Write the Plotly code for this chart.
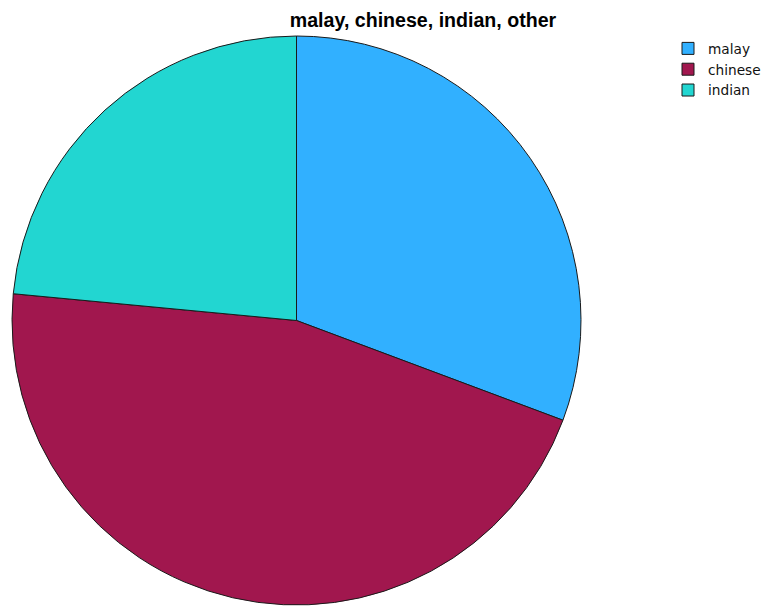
import plotly.graph_objects as go

# Share of each group (percent)
labels = ["malay", "chinese", "indian"]
values = [30.7, 45.8, 23.5]
colors = ["#31b0ff", "#a1174e", "#22d6d1"]

W, H = 766, 606

fig = go.Figure(
    go.Pie(
        labels=labels,
        values=values,
        sort=False,
        direction="clockwise",
        rotation=0,
        textinfo="none",
        hoverinfo="label+percent",
        marker=dict(colors=colors, line=dict(color="#1a1a1a", width=1)),
        domain=dict(x=[11 / W, 582 / W], y=[(H - 605) / H, (H - 36) / H]),
    )
)

fig.update_layout(
    width=W,
    height=H,
    margin=dict(l=0, r=0, t=0, b=0, autoexpand=False),
    paper_bgcolor="white",
    plot_bgcolor="white",
    title=dict(
        text="<b>malay, chinese, indian, other</b>",
        x=423 / W,
        xanchor="center",
        y=1 - 20 / H,
        yanchor="middle",
        font=dict(family="Liberation Sans, Arial, sans-serif", size=19.6, color="black"),
    ),
    legend=dict(
        x=668 / W,
        xanchor="left",
        y=1 - 33 / H,
        yanchor="top",
        font=dict(family="DejaVu Sans, sans-serif", size=13.7, color="#111"),
        itemwidth=30,
        bgcolor="rgba(0,0,0,0)",
    ),
)

fig.write_html("out.html")
